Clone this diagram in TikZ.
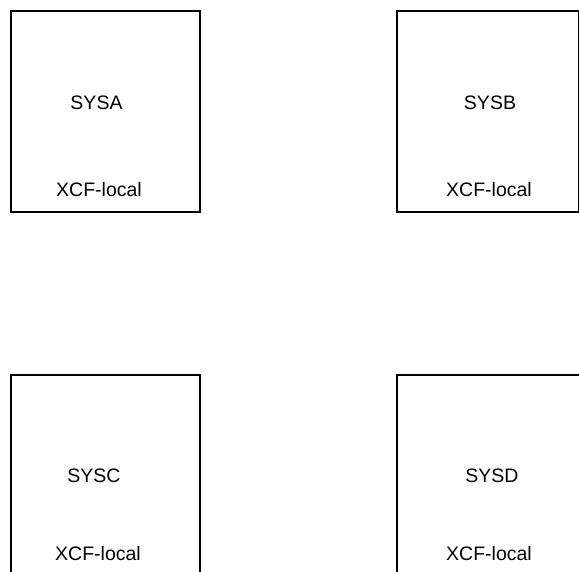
\documentclass[tikz,border=0pt]{standalone}
\usepackage{fontspec}
\setmainfont{Liberation Sans}
\usepackage{tikz}
\usetikzlibrary{positioning}

\begin{document}
\begin{tikzpicture}[x=1pt,y=-1pt,
  sysbox/.style={draw,line width=1.6pt,inner sep=0pt},
  syslabel/.style={font=\fontsize{19.5}{22}\selectfont,inner sep=0pt}]
\useasboundingbox (0,0) rectangle (579,571);
\clip (0,0) rectangle (579,571);
% the four systems, each with its local XCF
\foreach \n/\x/\y/\w/\sx/\sy/\lx/\ly in {A/10/10/189/96.5/103/99/190,B/396/10/182/490/103/489/190,
  C/10/374/189/94/476/98/554,D/396/374/194/492/476/489/554}{
 \node[sysbox,anchor=north west,minimum width=\w pt,minimum height=201pt] (box\n) at (\x,\y){};
 \node[syslabel] (sys\n) at (\sx,\sy){SYS\n};
 \node[syslabel] (xcf\n) at (\lx,\ly){XCF-local};}
\end{tikzpicture}
\end{document}
